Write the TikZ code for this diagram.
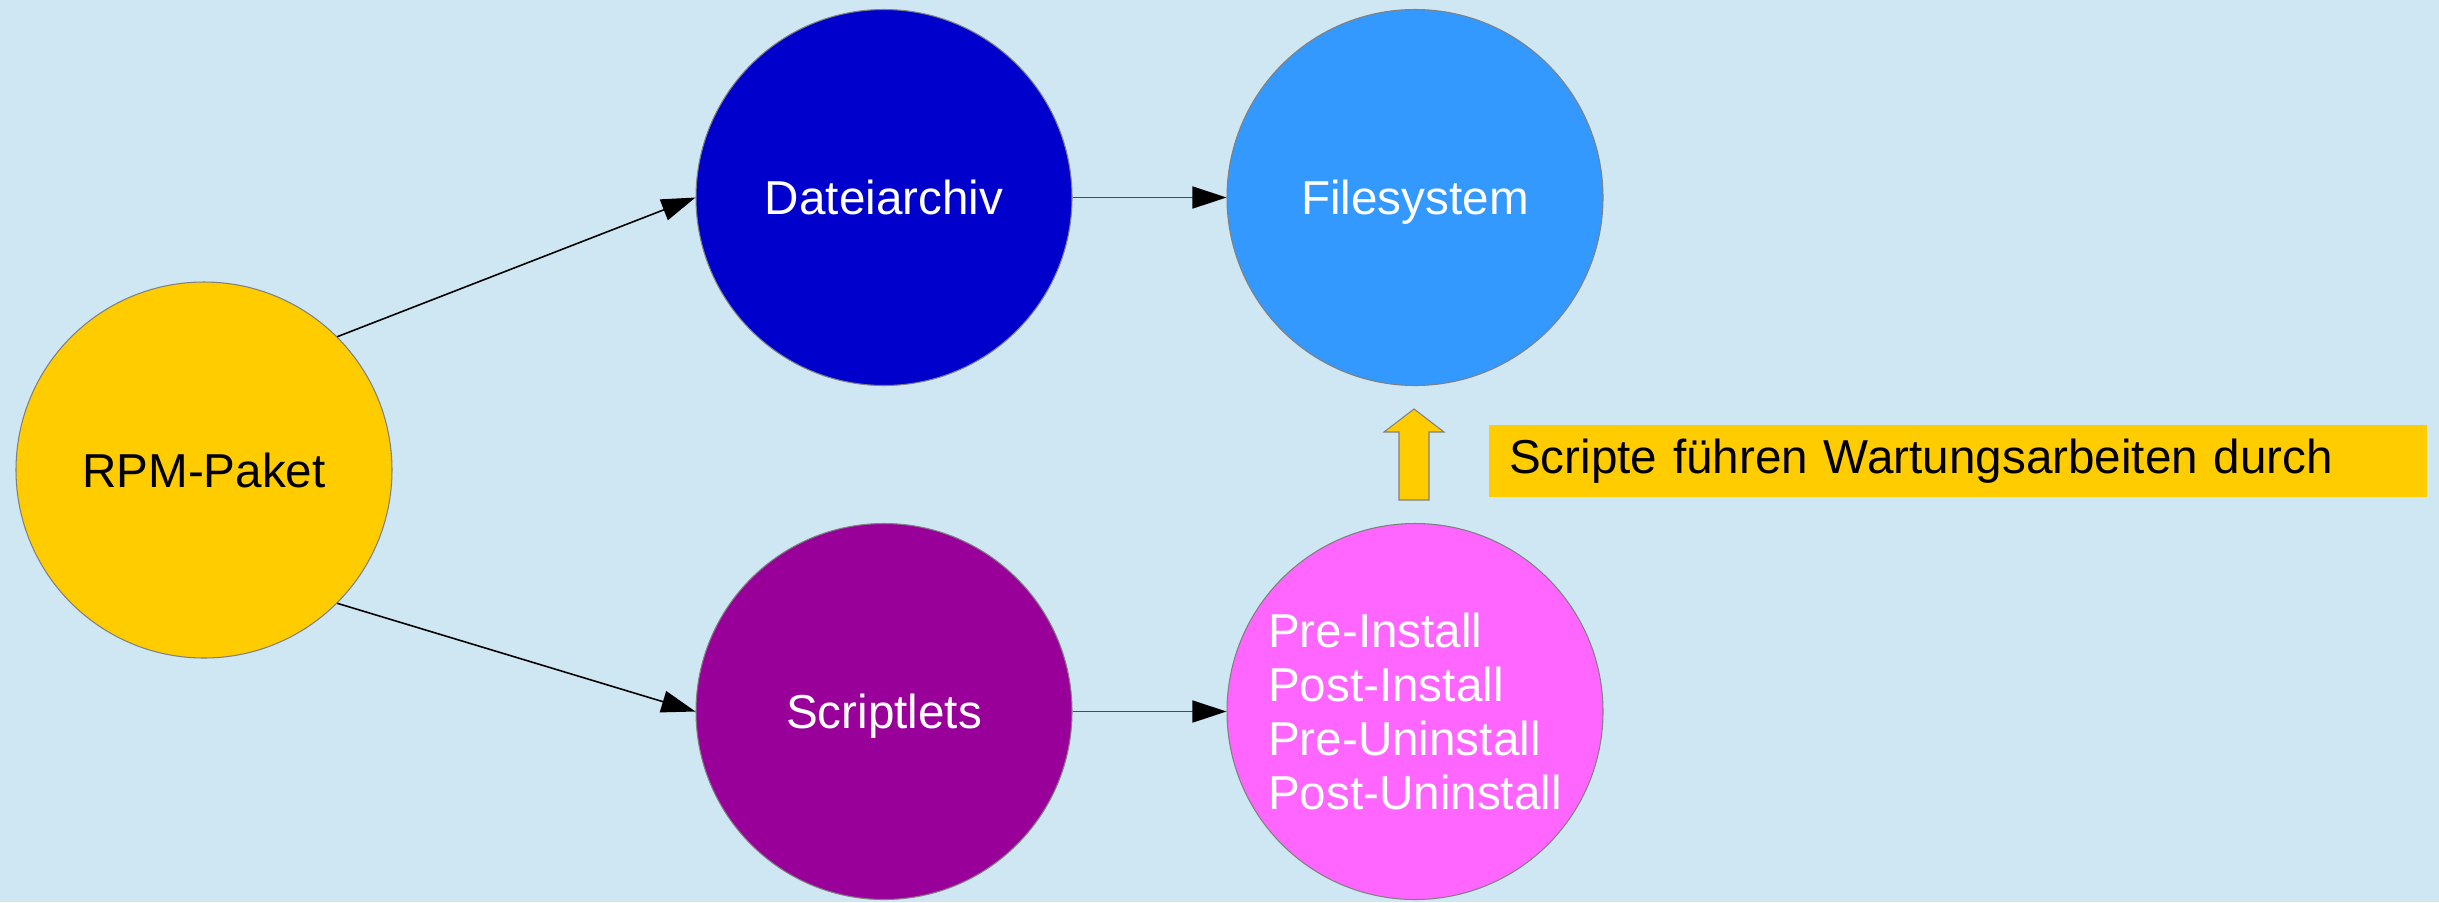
\documentclass[tikz,border=0pt]{standalone}
\usepackage{fontspec}
\setmainfont{Liberation Sans}
\usetikzlibrary{arrows.meta}
\usepackage{xcolor}

\definecolor{hintergrund}{HTML}{CFE6F3}
\definecolor{gelb}{HTML}{FFCC00}
\definecolor{dunkelblau}{HTML}{0000CC}
\definecolor{hellblau}{HTML}{3399FF}
\definecolor{lila}{HTML}{990099}
\definecolor{rosa}{HTML}{FF66FF}
\definecolor{rahmen}{HTML}{808080}

\begin{document}
\begin{tikzpicture}[
    line width=0.45pt,
    every node/.style={font=\fontsize{13.55}{15.37}\selectfont},
    >={Triangle[length=3.4mm,width=2.2mm,color=black]},
    kreis/.style={circle,draw=rahmen,line width=0.3pt,minimum size=3.76cm,inner sep=0pt,text depth=0pt}
]

% background fixes the page size
\fill[hintergrund] (0,0) rectangle (24.39,9.02);

% Nodes placed manually in a grid
\node[kreis,fill=gelb] (P) at (2.04,4.32) {RPM-Paket};
\node[kreis,fill=dunkelblau,text=white] (A) at (8.84,7.045) {Dateiarchiv};
\node[kreis,fill=hellblau,text=white] (F) at (14.15,7.045) {Filesystem};
\node[kreis,fill=lila,text=white] (S) at (8.84,1.905) {Scriptlets};
\node[kreis,fill=rosa,text=white,align=left] (H) at (14.15,1.905)
    {Pre-Install\\Post-Install\\Pre-Uninstall\\Post-Uninstall};
\node[fill=gelb,minimum width=9.38cm,minimum height=0.72cm,inner xsep=0.2cm,
      text width=8.98cm,align=left] (T) at (19.58,4.41)
    {Scripte führen Wartungsarbeiten durch};

% Block arrow
\draw[fill=gelb,draw=rahmen,line width=0.3pt]
    (13.99,4.02) -- (14.29,4.02) -- (14.29,4.70) -- (14.44,4.70)
    -- (14.14,4.93) -- (13.84,4.70) -- (13.99,4.70) -- cycle;

% Arrows
\draw[->] (P.north east) -- (A.west);
\draw[->] (P.south east) -- (S.west);
\draw[->,black!70] (A.east) -- (F.west);
\draw[->,black!70] (S.east) -- (H.west);
\end{tikzpicture}
\end{document}
